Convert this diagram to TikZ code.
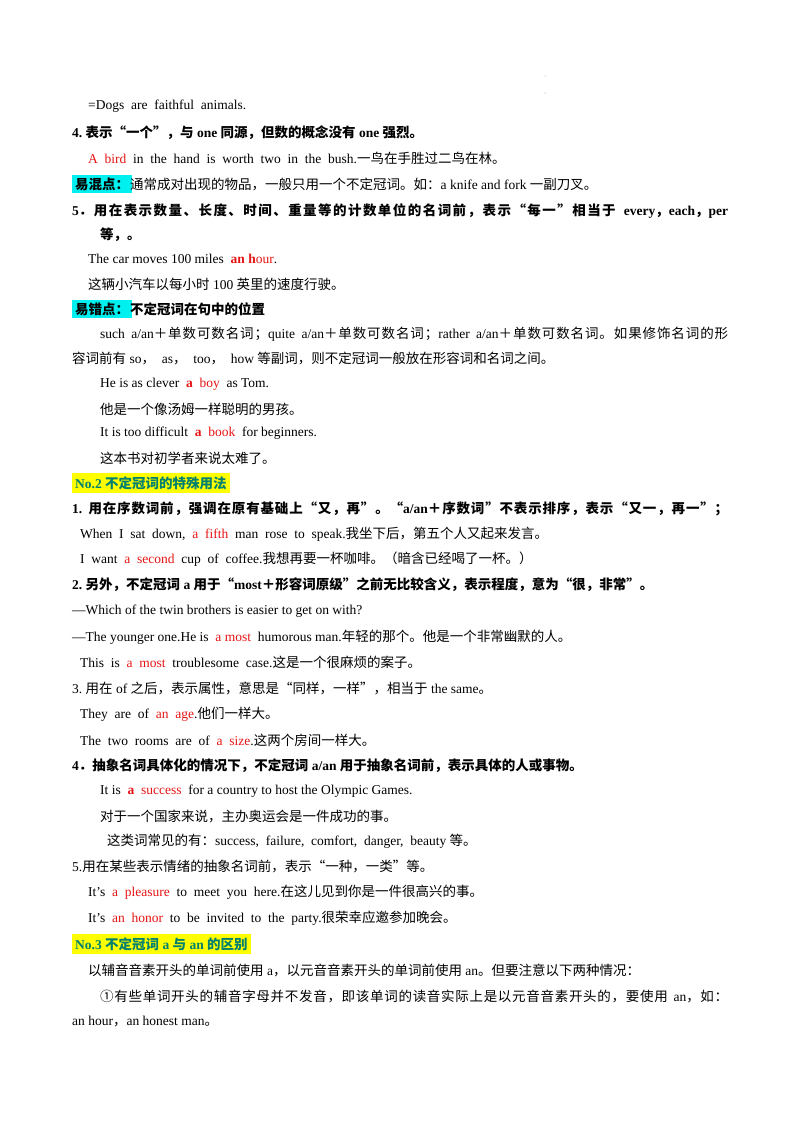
\documentclass[tikz,border=0pt]{standalone}
\usepackage{fontspec}
\setmainfont{Liberation Serif}
\newfontfamily\cjk{Noto Sans CJK SC}
\XeTeXinterchartokenstate=1
\newXeTeXintercharclass\cjkcls
\newcount\mycnt
\newcommand\setrange[2]{\mycnt=#1 \loop\XeTeXcharclass\mycnt=\cjkcls\ifnum\mycnt<#2 \advance\mycnt by 1 \repeat}
\setrange{"4E00}{"9FFF}
\setrange{"3000}{"303F}
\setrange{"FF00}{"FFEF}
\XeTeXcharclass"201C=\cjkcls \XeTeXcharclass"201D=\cjkcls \XeTeXcharclass"2460=\cjkcls
\XeTeXinterchartoks 0 \cjkcls = {\cjk}
\XeTeXinterchartoks 4095 \cjkcls = {\cjk}
\XeTeXinterchartoks \cjkcls 0 = {\rmfamily}
\XeTeXinterchartoks \cjkcls 4095 = {\rmfamily}
\XeTeXinterchartoks \cjkcls \cjkcls = {\hskip0pt plus 0.5pt\relax}
\definecolor{rd}{RGB}{230,20,20}
\definecolor{teal2}{RGB}{0,128,110}
\definecolor{cy}{RGB}{0,240,240}
\definecolor{yl}{RGB}{255,255,0}
\newcommand\R[1]{\textcolor{rd}{#1}}
\tikzset{ln/.style={anchor=west,inner sep=0pt,font=\fontsize{13.5}{16}\selectfont},
 bd/.style={ln,font=\fontsize{13.5}{16}\selectfont\bfseries}}
\begin{document}
\begin{tikzpicture}[x=1pt,y=-1pt]
\useasboundingbox (0,0) rectangle (800,1132);
\fill[gray] (545,76) circle (0.5) (545,93) circle (0.5);
\node[ln] (l1) at (88,106) {=Dogs\ \ are\ \ faithful\ \ animals.};
\node[bd] (l2) at (72,133) {4.\ 表示“一个”，与 one 同源，但数的概念没有 one 强烈。};
\node[ln] (l3) at (88,158) {\R{A\ \ bird}\ \ in\ \ the\ \ hand\ \ is\ \ worth\ \ two\ \ in\ \ the\ \ bush.一鸟在手胜过二鸟在林。};
\node[ln] (l4) at (72,184) {\colorbox{cy}{\bfseries 易混点：}\hspace{-2pt}通常成对出现的物品，一般只用一个不定冠词。如：a knife and fork 一副刀叉。};
\node[bd] (l5) at (72,211) {\makebox[656pt][s]{5．用在表示数量、长度、时间、重量等的计数单位的名词前，表示“每一”相当于 every，each，per}};
\node[bd] (l6) at (100,235) {等，。};
\node[ln] (l7) at (88,259) {The car moves 100 miles\ \ \R{\bfseries an h}\R{our}.};
\node[ln] (l8) at (88,284) {这辆小汽车以每小时 100 英里的速度行驶。};
\node[ln] (l9) at (72,309) {\colorbox{cy}{\bfseries 易错点：}\hspace{-2pt}\bfseries 不定冠词在句中的位置};
\node[ln] (l10) at (100,334) {\makebox[628pt][s]{such a/an＋单数可数名词；quite a/an＋单数可数名词；rather a/an＋单数可数名词。如果修饰名词的形}};
\node[ln] (l11) at (72,359) {容词前有 so，\ \ as，\ \ too，\ \ how 等副词，则不定冠词一般放在形容词和名词之间。};
\node[ln] (l12) at (100,384) {He is as clever\ \ \R{\bfseries a}\ \ \R{boy}\ \ as Tom.};
\node[ln] (l13) at (100,409) {他是一个像汤姆一样聪明的男孩。};
\node[ln] (l14) at (100,433) {It is too difficult\ \ \R{\bfseries a}\ \ \R{book}\ \ for beginners.};
\node[ln] (l15) at (100,458) {这本书对初学者来说太难了。};
\node[ln] (l16) at (72,483) {\colorbox{yl}{\textcolor{teal2}{\bfseries No.2 不定冠词的特殊用法}}};
\node[bd] (l17) at (72,509) {\makebox[656pt][s]{1.\ 用在序数词前，强调在原有基础上“又，再”。“a/an＋序数词”不表示排序，表示“又一，再一”；}};
\node[ln] (l18) at (80,534) {When\ \ I\ \ sat\ \ down,\ \ \R{a\ \ fifth}\ \ man\ \ rose\ \ to\ \ speak.我坐下后，第五个人又起来发言。};
\node[ln] (l19) at (80,559) {I\ \ want\ \ \R{a\ \ second}\ \ cup\ \ of\ \ coffee.我想再要一杯咖啡。（暗含已经喝了一杯。）};
\node[bd] (l20) at (72,585) {2.\ 另外，不定冠词 a 用于“most＋形容词原级”之前无比较含义，表示程度，意为“很，非常”。};
\node[ln] (l21) at (72,611) {—Which of the twin brothers is easier to get on with?};
\node[ln] (l22) at (72,637) {—The younger one.He is\ \ \R{a most}\ \ humorous man.年轻的那个。他是一个非常幽默的人。};
\node[ln] (l23) at (80,662) {This\ \ is\ \ \R{a\ \ most}\ \ troublesome\ \ case.这是一个很麻烦的案子。};
\node[ln] (l24) at (72,688) {3.\ 用在 of 之后，表示属性，意思是“同样，一样”，相当于 the same。};
\node[ln] (l25) at (80,714) {They\ \ are\ \ of\ \ \R{an\ \ age}.他们一样大。};
\node[ln] (l26) at (80,740) {The\ \ two\ \ rooms\ \ are\ \ of\ \ \R{a\ \ size}.这两个房间一样大。};
\node[bd] (l27) at (72,766) {4．抽象名词具体化的情况下，不定冠词 a/an 用于抽象名词前，表示具体的人或事物。};
\node[ln] (l28) at (100,791) {It is\ \ \R{\bfseries a}\ \ \R{success}\ \ for a country to host the Olympic Games.};
\node[ln] (l29) at (100,816) {对于一个国家来说，主办奥运会是一件成功的事。};
\node[ln] (l30) at (107,841) {这类词常见的有：success,\ \ failure,\ \ comfort,\ \ danger,\ \ beauty 等。};
\node[ln] (l31) at (72,866) {5.用在某些表示情绪的抽象名词前，表示“一种，一类”等。};
\node[ln] (l32) at (88,892) {It's\ \ \R{a\ \ pleasure}\ \ to\ \ meet\ \ you\ \ here.在这儿见到你是一件很高兴的事。};
\node[ln] (l33) at (88,918) {It's\ \ \R{an\ \ honor}\ \ to\ \ be\ \ invited\ \ to\ \ the\ \ party.很荣幸应邀参加晚会。};
\node[ln] (l34) at (72,944) {\colorbox{yl}{\textcolor{teal2}{\bfseries No.3 不定冠词 a 与 an 的区别}}};
\node[ln] (l35) at (88,970) {以辅音音素开头的单词前使用 a，以元音音素开头的单词前使用 an。但要注意以下两种情况：};
\node[ln] (l36) at (100,996) {\makebox[628pt][s]{①有些单词开头的辅音字母并不发音，即该单词的读音实际上是以元音音素开头的，要使用 an，如：}};
\node[ln] (l37) at (72,1022) {an hour，an honest man。};
\end{tikzpicture}
\end{document}
